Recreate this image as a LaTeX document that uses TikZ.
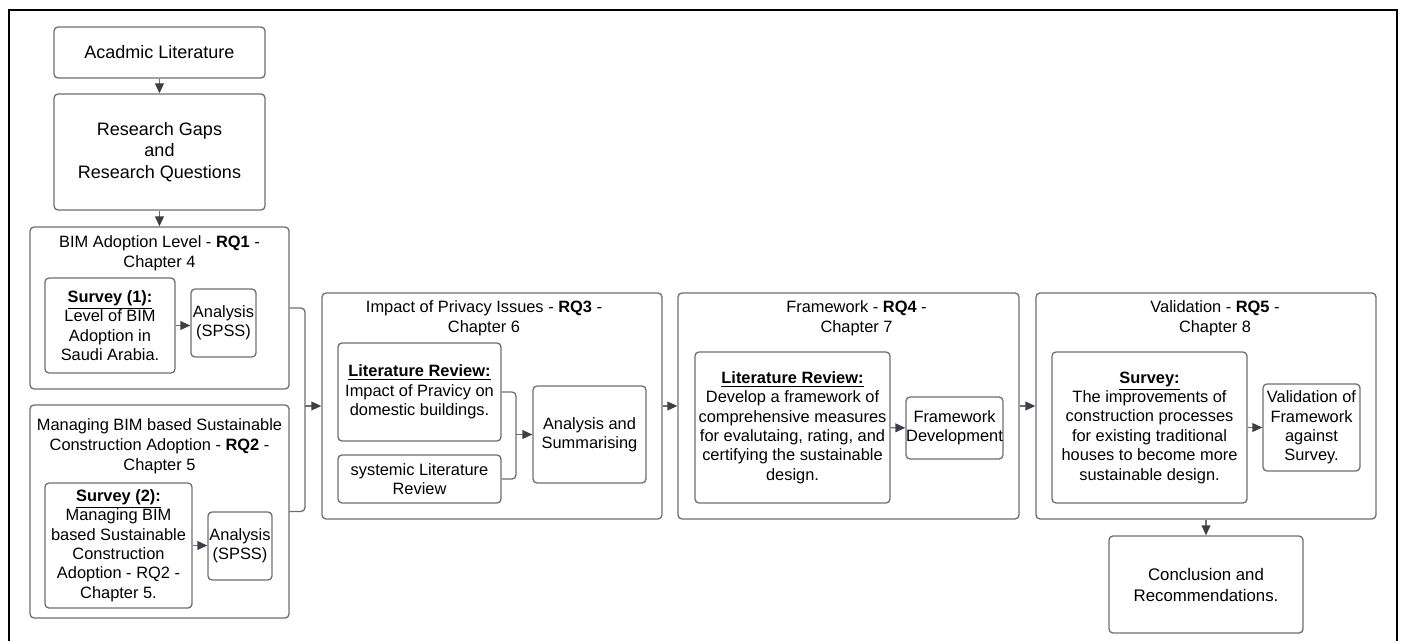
\documentclass[tikz,border=0pt]{standalone}
\usepackage{fontspec}
\setmainfont{Liberation Sans}
\usetikzlibrary{shapes.geometric, arrows, arrows.meta, positioning}

\definecolor{boxgray}{HTML}{6E6E6E}
\definecolor{tipgray}{HTML}{3A4048}

\begin{document}
\begin{tikzpicture}[x=0.5pt, y=-0.5pt]
			\tikzstyle{box}=[
			rectangle, rounded corners=2pt, draw=boxgray, line width=0.65pt,
			inner sep=0pt, align=center, font=\fontsize{8.2}{9.7}\selectfont
			]
			\tikzstyle{group}=[box]
			\tikzstyle{head}=[inner sep=0pt, align=center, font=\fontsize{8.2}{9.8}\selectfont]
			\tikzstyle{link}=[draw=boxgray, line width=0.65pt, rounded corners=2pt]
			\tikzstyle{flow}=[link, -{Triangle[length=5pt,width=4.4pt,color=tipgray]}]
			
			\useasboundingbox (0,0) rectangle (1401,641);
			\draw[line width=1pt] (9,660) -- (9,10) -- (1397,10) -- (1397,660);
			
			% left column
			\node[box, minimum width=105.5pt, minimum height=25.5pt, font=\fontsize{9}{10.8}\selectfont] (acad) at (159.5,52.5) {Acadmic Literature};
			\node[box, minimum width=105.5pt, minimum height=58pt, font=\fontsize{9}{10.8}\selectfont] (gaps) at (159.5,152) {Research Gaps\\and\\Research Questions};
			
			\node[group, minimum width=129.5pt, minimum height=81pt] (rq1) at (159.5,308) {};
			\node[head, below=4.6pt of rq1.north] (rq1t) {BIM Adoption Level - \textbf{RQ1} -\\Chapter 4};
			\node[box, minimum width=65pt, minimum height=47.5pt] (surv1) at (110,325.5) {\underline{\textbf{Survey (1):}}\\Level of BIM\\Adoption in\\Saudi Arabia.};
			\node[box, minimum width=32.5pt, minimum height=34pt] (spss1) at (223.5,323) {Analysis\\(SPSS)};
			
			\node[group, minimum width=129.5pt, minimum height=106.5pt] (rq2) at (159.5,511.5) {};
			\node[head, below=7.1pt of rq2.north] (rq2t) {Managing BIM based Sustainable\\Construction Adoption - \textbf{RQ2} -\\Chapter 5};
			\node[box, minimum width=73.5pt, minimum height=62.5pt] (surv2) at (118.5,545.5) {\underline{\textbf{Survey (2):}}\\Managing BIM\\based Sustainable\\Construction\\Adoption - RQ2 -\\Chapter 5.};
			\node[box, minimum width=32pt, minimum height=34pt] (spss2) at (240,546) {Analysis\\(SPSS)};
			\coordinate (j1) at (305,406);
			
			% RQ3
			\node[group, minimum width=170pt, minimum height=113pt] (rq3) at (492,406) {};
			\node[head, below=4.1pt of rq3.north, xshift=-4pt] (rq3t) {Impact of Privacy Issues - \textbf{RQ3} -\\Chapter 6};
			\node[box, minimum width=81.5pt, minimum height=49pt] (lit3) at (419.5,392) {\underline{\textbf{Literature Review:}}\\Impact of Pravicy on\\domestic buildings.};
			\node[box, minimum width=81.5pt, minimum height=24pt] (sys3) at (419.5,479) {systemic Literature\\Review};
			\node[box, minimum width=56.5pt, minimum height=48.5pt] (ana3) at (589.5,434.5) {Analysis and\\Summarising};
			\coordinate (j3) at (516,434.5);
			
			% RQ4
			\node[group, minimum width=170.5pt, minimum height=113pt] (rq4) at (848.5,406) {};
			\node[head, below=4.1pt of rq4.north, xshift=4pt] (rq4t) {Framework - \textbf{RQ4} -\\Chapter 7};
			\node[box, minimum width=97.5pt, minimum height=75.5pt] (lit4) at (792.5,427.5) {\underline{\textbf{Literature Review:}}\\Develop a framework of\\comprehensive measures\\for evalutaing, rating, and\\certifying the sustainable\\design.};
			\node[box, minimum width=48.5pt, minimum height=31pt] (fw4) at (954.5,428) {Framework\\Development};
			
			% RQ5
			\node[group, minimum width=170pt, minimum height=113pt] (rq5) at (1206,406) {};
			\node[head, below=4.1pt of rq5.north, xshift=4.5pt] (rq5t) {Validation - \textbf{RQ5} -\\Chapter 8};
			\node[box, minimum width=97.5pt, minimum height=75.5pt] (surv5) at (1149.5,427.5) {\underline{\textbf{Survey:}}\\The improvements of\\construction processes\\for existing traditional\\houses to become more\\sustainable design.};
			\node[box, minimum width=48.5pt, minimum height=43.5pt] (val5) at (1311.5,427.5) {Validation of\\Framework\\against\\Survey.};
			\node[box, minimum width=97pt, minimum height=48.5pt, font=\fontsize{8.4}{10.5}\selectfont] (concl) at (1206,584.5) {Conclusion and\\Recommendations.};
			
			\draw[flow] (acad) -- (gaps);
			\draw[flow] (gaps) -- (rq1);
			\draw[flow] (surv1.east) -- (surv1.east -| spss1.west);
			\draw[flow] (surv2.east) -- (surv2.east -| spss2.west);
			\draw[link] (rq1.east) -| (j1) |- (rq2.east);
			\draw[flow] (j1) -- (rq3.west);
			\draw[link] (lit3.east) -| (j3) |- (sys3.east);
			\draw[flow] (j3) -- (ana3.west);
			\draw[flow] (rq3) -- (rq4);
			\draw[flow] (rq4) -- (rq5);
			\draw[flow] (lit4) -- (fw4);
			\draw[flow] (surv5) -- (val5);
			\draw[flow] (rq5) -- (concl);
		\end{tikzpicture}
\end{document}
